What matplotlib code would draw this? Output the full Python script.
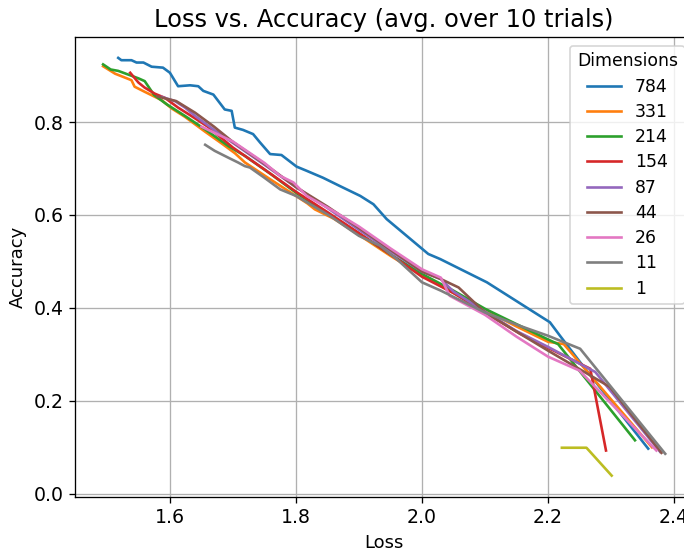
import matplotlib
matplotlib.use("Agg")
import matplotlib.pyplot as plt

# (loss, accuracy) points per input dimension
dims = ["784", "331", "214", "154", "87", "44", "26", "11", "1"]

loss_784 = [1.518, 1.523, 1.539, 1.547, 1.558, 1.571, 1.589, 1.600, 1.613, 1.632, 1.645, 1.653,
            1.669, 1.687, 1.698, 1.703, 1.716, 1.732, 1.743, 1.759, 1.777, 1.801, 1.817, 1.843,
            1.870, 1.902, 1.923, 1.944, 2.010, 2.029, 2.103, 2.203, 2.219, 2.251, 2.359]
acc_784 = [0.938, 0.933, 0.933, 0.928, 0.928, 0.919, 0.917, 0.906, 0.877, 0.879, 0.877, 0.867,
           0.859, 0.827, 0.824, 0.788, 0.783, 0.774, 0.756, 0.731, 0.729, 0.704, 0.695, 0.680,
           0.662, 0.641, 0.623, 0.591, 0.516, 0.505, 0.455, 0.369, 0.340, 0.283, 0.097]

loss_331 = [1.494, 1.513, 1.539, 1.544, 1.560, 1.587, 1.603, 1.624, 1.656, 1.682, 1.703, 1.719,
            1.76, 1.80, 1.818, 1.83, 1.86, 1.90, 1.95, 2.00, 2.05, 2.10, 2.15, 2.20, 2.225, 2.365]
acc_331 = [0.920, 0.904, 0.890, 0.876, 0.865, 0.847, 0.829, 0.811, 0.779, 0.754, 0.733, 0.713,
           0.676, 0.641, 0.625, 0.612, 0.592, 0.557, 0.512, 0.470, 0.432, 0.395, 0.360, 0.327,
           0.322, 0.100]

loss_214 = [1.494, 1.506, 1.518, 1.534, 1.550, 1.560, 1.575, 1.595, 1.624, 1.656, 1.693, 1.719,
            1.76, 1.80, 1.85, 1.90, 1.95, 2.00, 2.05, 2.10, 2.15, 2.20, 2.216, 2.338]
acc_214 = [0.924, 0.913, 0.910, 0.902, 0.894, 0.888, 0.858, 0.838, 0.813, 0.784, 0.748, 0.727,
           0.688, 0.648, 0.603, 0.560, 0.515, 0.473, 0.437, 0.398, 0.365, 0.332, 0.322, 0.115]

loss_154 = [1.537, 1.550, 1.560, 1.576, 1.592, 1.613, 1.634, 1.66, 1.70, 1.75, 1.80, 1.85,
            1.90, 1.95, 2.00, 2.05, 2.10, 2.156, 2.20, 2.267, 2.292]
acc_154 = [0.906, 0.885, 0.874, 0.861, 0.852, 0.831, 0.813, 0.790, 0.745, 0.698, 0.650, 0.606,
           0.561, 0.515, 0.467, 0.432, 0.390, 0.344, 0.314, 0.269, 0.093]

loss_87 = [1.587, 1.608, 1.624, 1.640, 1.67, 1.70, 1.75, 1.80, 1.85, 1.90, 1.95, 2.00, 2.03,
           2.05, 2.10, 2.15, 2.20, 2.275, 2.378]
acc_87 = [0.854, 0.845, 0.831, 0.813, 0.783, 0.755, 0.708, 0.660, 0.615, 0.568, 0.522, 0.478,
          0.462, 0.435, 0.392, 0.350, 0.316, 0.262, 0.090]

loss_44 = [1.58, 1.61, 1.64, 1.67, 1.70, 1.75, 1.80, 1.85, 1.90, 1.95, 2.00, 2.03, 2.058,
           2.10, 2.156, 2.20, 2.298, 2.380]
acc_44 = [0.855, 0.845, 0.820, 0.790, 0.757, 0.710, 0.660, 0.618, 0.572, 0.525, 0.478, 0.462,
          0.444, 0.390, 0.344, 0.308, 0.230, 0.088]

loss_26 = [1.65, 1.70, 1.75, 1.775, 1.796, 1.817, 1.86, 1.90, 1.95, 2.00, 2.03, 2.044, 2.10,
           2.15, 2.20, 2.25, 2.372]
acc_26 = [0.790, 0.758, 0.712, 0.684, 0.670, 0.641, 0.608, 0.575, 0.528, 0.483, 0.465, 0.426,
          0.385, 0.338, 0.295, 0.265, 0.093]

loss_11 = [1.656, 1.671, 1.693, 1.708, 1.719, 1.727, 1.75, 1.775, 1.80, 1.854, 1.90, 1.933,
           1.96, 2.00, 2.03, 2.10, 2.156, 2.20, 2.251, 2.386]
acc_11 = [0.751, 0.738, 0.723, 0.713, 0.705, 0.702, 0.680, 0.655, 0.641, 0.598, 0.555, 0.534,
          0.505, 0.455, 0.437, 0.390, 0.361, 0.340, 0.312, 0.086]

loss_1 = [2.222, 2.261, 2.301]
acc_1 = [0.099, 0.099, 0.039]

series = [(loss_784, acc_784), (loss_331, acc_331), (loss_214, acc_214), (loss_154, acc_154),
          (loss_87, acc_87), (loss_44, acc_44), (loss_26, acc_26), (loss_11, acc_11),
          (loss_1, acc_1)]

DPI = 118
plt.rcParams.update({"font.size": 11, "lines.linewidth": 1.6})
fig = plt.figure(figsize=(684 / DPI, 550 / DPI), dpi=DPI)
ax = fig.add_axes([75 / 684, 53.5 / 550, 0.904, 459.5 / 550])

for name, (xs, ys) in zip(dims, series):
    ax.plot(xs, ys, label=name)

ax.set_title("Loss vs. Accuracy (avg. over 10 trials)", fontsize=14.7)
ax.set_xlabel("Loss")
ax.set_ylabel("Accuracy")
ax.tick_params(labelsize=11.5)
ax.grid(True)
ax.legend(title="Dimensions", loc="upper right", fontsize=10.5, title_fontsize=10.5,
          labelspacing=0.42)

fig.savefig("out.png", dpi=DPI)
